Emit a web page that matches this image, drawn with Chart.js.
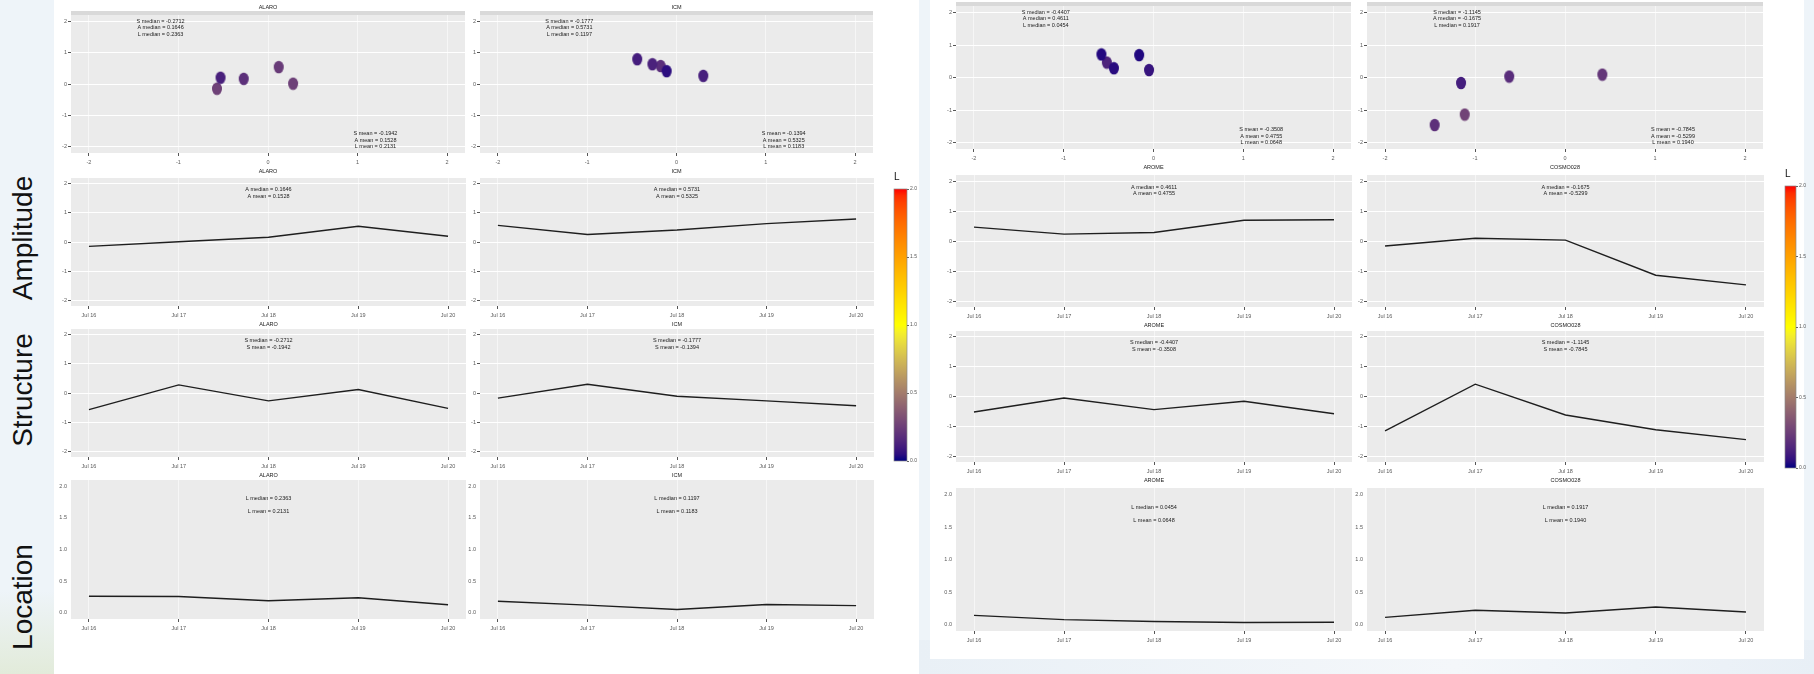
<!DOCTYPE html>
<html>
<head>
<meta charset="utf-8">
<script src="https://cdn.jsdelivr.net/npm/chart.js@4.4.1/dist/chart.umd.min.js"></script>
<style>
html, body { margin: 0; padding: 0; }
body { width: 1814px; height: 674px; position: relative; overflow: hidden; background: #eef4f9; font-family: 'Liberation Sans', Arial, sans-serif; }
.fig { position: absolute; background: #fff; }
.rowlab { position: absolute; font-size: 28px; color: #111; transform: translate(-50%, -50%) rotate(-90deg); white-space: nowrap; }
canvas { position: absolute; }
</style>
</head>
<body>
<div style="position:absolute;left:0;top:590px;width:54px;height:84px;background:linear-gradient(#eef4f9,#e2ebda)"></div>
<div style="position:absolute;left:919px;top:640px;width:895px;height:34px;background:linear-gradient(90deg,#e9f0f6,#f4f7fa 60%,#e8eff6)"></div>
<div class="fig" style="left:54px;top:0;width:865px;height:674px"></div>
<div class="fig" style="left:930px;top:0;width:874px;height:659px"></div>
<div class="rowlab" style="left:23px;top:238px">Amplitude</div>
<div class="rowlab" style="left:23px;top:390px">Structure</div>
<div class="rowlab" style="left:23px;top:597px">Location</div>
<script>
const FONT = "'Liberation Sans', Arial, sans-serif";

// data
const DATES = ['Jul 16', 'Jul 17', 'Jul 18', 'Jul 19', 'Jul 20'];
const AXIS_TICKS = [-2, -1, 0, 1, 2];
const LOC_TICKS = [0, 0.5, 1, 1.5, 2];
const BAR_TICKS = [0, 0.5, 1, 1.5, 2];
const COLOR_STOPS = ['#000080', '#FFFF00', '#FF0000'];

const ALARO_S = [-0.57, 0.28, -0.2712, 0.12, -0.53];
const ALARO_A = [-0.15, 0.01, 0.1646, 0.54, 0.20];
const ALARO_L = [0.26, 0.255, 0.19, 0.2363, 0.125];
const ALARO_MEDIAN = ['S median = -0.2712', 'A median = 0.1646', 'L median = 0.2363'];
const ALARO_MEAN = ['S mean = -0.1942', 'A mean = 0.1528', 'L mean = 0.2131'];

const ICM_S = [-0.1777, 0.30, -0.11, -0.27, -0.44];
const ICM_A = [0.5731, 0.26, 0.41, 0.63, 0.79];
const ICM_L = [0.18, 0.1197, 0.05, 0.13, 0.112];
const ICM_MEDIAN = ['S median = -0.1777', 'A median = 0.5731', 'L median = 0.1197'];
const ICM_MEAN = ['S mean = -0.1394', 'A mean = 0.5325', 'L mean = 0.1183'];

const AROME_S = [-0.52, -0.05, -0.4407, -0.16, -0.58];
const AROME_A = [0.4611, 0.23, 0.285, 0.69, 0.71];
const AROME_L = [0.14, 0.075, 0.0454, 0.03, 0.034];
const AROME_MEDIAN = ['S median = -0.4407', 'A median = 0.4611', 'L median = 0.0454'];
const AROME_MEAN = ['S mean = -0.3508', 'A mean = 0.4755', 'L mean = 0.0648'];

const COSMO_S = [-1.155, 0.415, -0.62, -1.1145, -1.448];
const COSMO_A = [-0.1675, 0.09, 0.03, -1.14, -1.462];
const COSMO_L = [0.11, 0.22, 0.178, 0.27, 0.1917];
const COSMO_MEDIAN = ['S median = -1.1145', 'A median = -0.1675', 'L median = 0.1917'];
const COSMO_MEAN = ['S mean = -0.7845', 'A mean = -0.5299', 'L mean = 0.1940'];

const MODELS = [
  { name: 'ALARO', S: ALARO_S, A: ALARO_A, L: ALARO_L, med: ALARO_MEDIAN, mean: ALARO_MEAN },
  { name: 'ICM', S: ICM_S, A: ICM_A, L: ICM_L, med: ICM_MEDIAN, mean: ICM_MEAN },
  { name: 'AROME', S: AROME_S, A: AROME_A, L: AROME_L, med: AROME_MEDIAN, mean: AROME_MEAN },
  { name: 'COSMO028', S: COSMO_S, A: COSMO_A, L: COSMO_L, med: COSMO_MEDIAN, mean: COSMO_MEAN }
];

// panel rectangles on the page (plot areas only)
const FIG_LAYOUT = [
  { cols: [[71, 466], [480, 874]], rows: [[15, 153], [177.5, 305], [328.5, 456], [480, 619]], bar: [894, 188.5, 906.5, 460.5] },
  { cols: [[956, 1352], [1367, 1764]], rows: [[6, 149], [174.5, 306.5], [331, 461.5], [488, 631]], bar: [1785, 186, 1796, 467.5] }
];
const M = { l: 24, t: 16, r: 6, b: 26 };

// colour scale: navy -> yellow -> red, interpolated in Lab like ggplot
const WP = [0.95047, 1, 1.08883];
const toLin = c => { c /= 255; return c <= 0.04045 ? c / 12.92 : Math.pow((c + 0.055) / 1.055, 2.4); };
const fromLin = c => { c = c <= 0.0031308 ? 12.92 * c : 1.055 * Math.pow(c, 1 / 2.4) - 0.055; return Math.round(Math.min(1, Math.max(0, c)) * 255); };
function hexToLab(h) {
  const [r, g, b] = [1, 3, 5].map(i => toLin(parseInt(h.slice(i, i + 2), 16)));
  const x = (r * 0.4124 + g * 0.3576 + b * 0.1805) / WP[0];
  const y = (r * 0.2126 + g * 0.7152 + b * 0.0722) / WP[1];
  const z = (r * 0.0193 + g * 0.1192 + b * 0.9505) / WP[2];
  const f = t => t > 0.008856 ? Math.cbrt(t) : 7.787 * t + 16 / 116;
  return [116 * f(y) - 16, 500 * (f(x) - f(y)), 200 * (f(y) - f(z))];
}
function labToCss([L, a, b]) {
  const fy = (L + 16) / 116, fx = fy + a / 500, fz = fy - b / 200;
  const inv = t => { const t3 = t * t * t; return t3 > 0.008856 ? t3 : (t - 16 / 116) / 7.787; };
  const x = inv(fx) * WP[0], y = inv(fy) * WP[1], z = inv(fz) * WP[2];
  const r = fromLin(3.2406 * x - 1.5372 * y - 0.4986 * z);
  const g = fromLin(-0.9689 * x + 1.8758 * y + 0.0415 * z);
  const bl = fromLin(0.0557 * x - 0.2040 * y + 1.0570 * z);
  return `rgb(${r},${g},${bl})`;
}
const LAB_STOPS = COLOR_STOPS.map(hexToLab);
function colorFor(v) {
  const t = Math.max(0, Math.min(2, v));
  const i = Math.min(1, Math.floor(t)), f = t - i;
  return labToCss(LAB_STOPS[i].map((c, k) => c + (LAB_STOPS[i + 1][k] - c) * f));
}

const ellCache = {};
function ellipse(color) {
  if (ellCache[color]) return ellCache[color];
  const c = document.createElement('canvas');
  c.width = 12; c.height = 14;
  const g = c.getContext('2d');
  g.fillStyle = color;
  g.beginPath(); g.ellipse(6, 7, 5, 6.3, 0, 0, Math.PI * 2); g.fill();
  return (ellCache[color] = c);
}

function panelPlugin(spec) {
  return {
    id: 'panel',
    beforeDraw(chart) {
      const { ctx, chartArea: a } = chart;
      ctx.save();
      ctx.fillStyle = '#ebebeb';
      ctx.fillRect(a.left, a.top, a.right - a.left, a.bottom - a.top);
      if (spec.top) { ctx.fillStyle = '#d9d9d9'; ctx.fillRect(a.left, a.top - 4, a.right - a.left, 4); }
      ctx.restore();
    },
    afterDraw(chart) {
      const { ctx, chartArea: a, scales } = chart;
      const cx = (a.left + a.right) / 2;
      ctx.save();
      ctx.font = `5.5px ${FONT}`;
      ctx.textAlign = 'center'; ctx.textBaseline = 'middle';
      ctx.fillStyle = '#1a1a1a';
      if (spec.top) ctx.fillText(spec.top, cx, a.top - 7.5);
      if (spec.bottom) ctx.fillText(spec.bottom, cx, a.bottom + 18);
      (spec.notes || []).forEach(n => ctx.fillText(n.text, scales.x.getPixelForValue(n.x), scales.y.getPixelForValue(n.y) + n.dy));
      ctx.restore();
    }
  };
}

function axis(isX, min, max, ticks, fmt, bare) {
  return {
    type: 'linear', min, max,
    afterBuildTicks: s => { s.ticks = ticks.map(v => ({ value: v })); },
    afterFit: s => { if (isX) s.height = M.b; else s.width = M.l; },
    grid: {
      color: bare ? 'rgba(255,255,255,0)' : (isX ? 'rgba(255,255,255,0.55)' : '#ffffff'),
      lineWidth: 1, drawTicks: true, tickLength: 3, tickColor: bare ? 'rgba(0,0,0,0)' : '#555'
    },
    border: { display: false },
    ticks: { font: { family: FONT, size: 5.5 }, color: '#5a5a5a', padding: isX ? 3 : 1, autoSkip: false, maxRotation: 0, callback: fmt }
  };
}

function addPanel(xr, yr, type, datasets, scales, spec) {
  const w = Math.round(xr[1] - xr[0]) + M.l + M.r;
  const h = Math.round(yr[1] - yr[0]) + M.t + M.b;
  const cv = document.createElement('canvas');
  cv.width = w; cv.height = h;
  cv.style.cssText = `left:${Math.round(xr[0] - M.l)}px;top:${Math.round(yr[0] - M.t)}px;width:${w}px;height:${h}px`;
  document.body.appendChild(cv);
  return new Chart(cv, {
    type,
    data: { datasets },
    options: {
      responsive: false, animation: false, devicePixelRatio: 1, events: [],
      layout: { padding: { left: 0, top: M.t, right: M.r, bottom: 0 } },
      plugins: { legend: { display: false }, tooltip: { enabled: false } },
      scales
    },
    plugins: [panelPlugin(spec)]
  });
}

function addColorbar(bar) {
  const [l, t, r, b] = bar;
  const pad = { l: 2, t: 18, r: 16, b: 4 };
  const w = Math.round(r - l) + pad.l + pad.r, h = Math.round(b - t) + pad.t + pad.b;
  const cv = document.createElement('canvas');
  cv.width = w; cv.height = h;
  cv.style.cssText = `left:${Math.round(l - pad.l)}px;top:${Math.round(t - pad.t)}px;width:${w}px;height:${h}px`;
  document.body.appendChild(cv);
  new Chart(cv, {
    type: 'line',
    data: { datasets: [] },
    options: {
      responsive: false, animation: false, devicePixelRatio: 1, events: [],
      layout: { padding: { left: pad.l, top: pad.t, right: 0, bottom: pad.b } },
      plugins: { legend: { display: false }, tooltip: { enabled: false } },
      scales: {
        x: { display: false },
        y: {
          position: 'right', min: 0, max: 2,
          afterBuildTicks: s => { s.ticks = BAR_TICKS.map(v => ({ value: v })); },
          afterFit: s => { s.width = pad.r; },
          grid: { drawOnChartArea: false, drawTicks: true, tickLength: 2, tickColor: '#666' },
          border: { display: false },
          ticks: { font: { family: FONT, size: 5 }, color: '#555', padding: 1, callback: v => v.toFixed(1) }
        }
      }
    },
    plugins: [{
      id: 'gradient',
      beforeDraw(chart) {
        const { ctx, chartArea: a } = chart;
        const grad = ctx.createLinearGradient(0, a.bottom, 0, a.top);
        for (let k = 0; k <= 40; k++) grad.addColorStop(k / 40, colorFor(k / 20));
        ctx.save();
        ctx.fillStyle = grad;
        ctx.fillRect(a.left, a.top, a.right - a.left, a.bottom - a.top);
        ctx.strokeStyle = '#8a8a8a'; ctx.lineWidth = 0.7;
        ctx.strokeRect(a.left, a.top, a.right - a.left, a.bottom - a.top);
        ctx.fillStyle = '#111';
        ctx.font = `10px ${FONT}`;
        ctx.textAlign = 'left'; ctx.textBaseline = 'middle';
        ctx.fillText('L', a.left, a.top - 12);
        ctx.restore();
      }
    }]
  });
}

const num = v => String(v);
const day = v => DATES[v];

FIG_LAYOUT.forEach((fig, f) => {
  fig.cols.forEach((xr, c) => {
    const m = MODELS[f * 2 + c];
    const [rs, ra, rst, rl] = fig.rows;

    // S vs A scatter, coloured by L
    addPanel(xr, rs, 'scatter', [{
      data: m.S.map((s, i) => ({ x: s, y: m.A[i] })),
      pointStyle: ctx => ellipse(colorFor(m.L[ctx.dataIndex])),
      pointRadius: 6
    }], {
      x: axis(true, -2.2, 2.2, AXIS_TICKS, num),
      y: axis(false, -2.2, 2.2, AXIS_TICKS, num)
    }, {
      top: m.name, bottom: m.name,
      notes: [
        ...m.med.map((t, i) => ({ text: t, x: -1.2, y: 2, dy: i * 6.4 })),
        ...m.mean.map((t, i) => ({ text: t, x: 1.2, y: -2, dy: (i - 2) * 6.4 }))
      ]
    });

    const line = vals => [{
      data: vals.map((v, i) => ({ x: i, y: v })),
      borderColor: '#1e1e1e', borderWidth: 1.4, pointRadius: 0, tension: 0, fill: false
    }];
    const timeScales = (min, max, ticks, fmt, bare) => ({
      x: axis(true, -0.2, 4.2, [0, 1, 2, 3, 4], day),
      y: axis(false, min, max, ticks, fmt, bare)
    });

    addPanel(xr, ra, 'line', line(m.A), timeScales(-2.2, 2.2, AXIS_TICKS, num), {
      bottom: m.name,
      notes: [{ text: m.med[1], x: 2, y: 1.8, dy: 0 }, { text: m.mean[1], x: 2, y: 1.8, dy: 6.4 }]
    });
    addPanel(xr, rst, 'line', line(m.S), timeScales(-2.2, 2.2, AXIS_TICKS, num), {
      bottom: m.name,
      notes: [{ text: m.med[0], x: 2, y: 1.8, dy: 0 }, { text: m.mean[0], x: 2, y: 1.8, dy: 6.4 }]
    });
    addPanel(xr, rl, 'line', line(m.L), timeScales(-0.1, 2.1, LOC_TICKS, v => v.toFixed(1), true), {
      notes: [{ text: m.med[2], x: 2, y: 1.8, dy: 0 }, { text: m.mean[2], x: 2, y: 1.6, dy: 0 }]
    });
  });
  addColorbar(fig.bar);
});
</script>
</body>
</html>
